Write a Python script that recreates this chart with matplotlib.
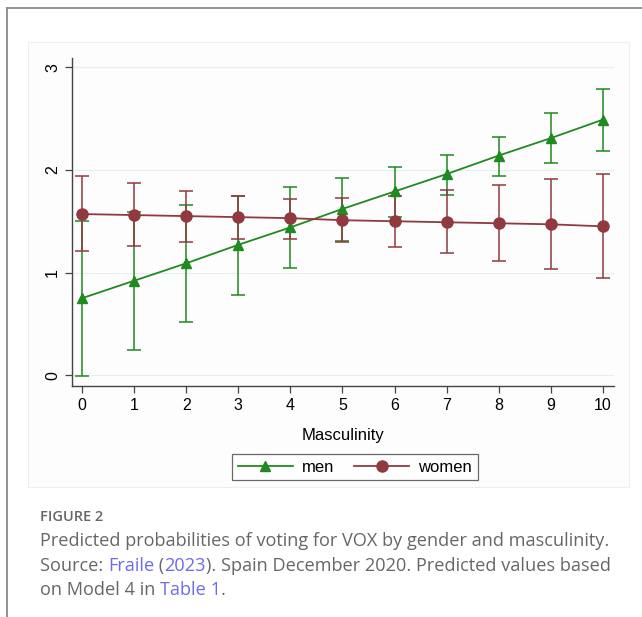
import matplotlib
matplotlib.use("Agg")
import matplotlib.pyplot as plt
from matplotlib.patches import Rectangle
from matplotlib.lines import Line2D
import numpy as np

# ---- data ----
masculinity = [0, 1, 2, 3, 4, 5, 6, 7, 8, 9, 10]
men_pred = [0.75, 0.92, 1.09, 1.27, 1.44, 1.62, 1.79, 1.96, 2.14, 2.31, 2.49]
men_low = [-0.01, 0.25, 0.52, 0.78, 1.04, 1.31, 1.54, 1.76, 1.94, 2.07, 2.18]
men_high = [1.50, 1.59, 1.66, 1.75, 1.83, 1.92, 2.03, 2.15, 2.32, 2.55, 2.79]
women_pred = [1.57, 1.56, 1.55, 1.54, 1.53, 1.51, 1.50, 1.49, 1.48, 1.47, 1.45]
women_low = [1.21, 1.26, 1.30, 1.33, 1.33, 1.30, 1.25, 1.19, 1.11, 1.03, 0.95]
women_high = [1.94, 1.87, 1.79, 1.75, 1.72, 1.73, 1.75, 1.80, 1.85, 1.91, 1.96]
y_ticks = [0, 1, 2, 3]
x_label = "Masculinity"
series_names = ["men", "women"]

W, H = 642, 617
fig = plt.figure(figsize=(W / 100, H / 100), dpi=100)
fig.patch.set_facecolor("white")


def fx(px):
    return px / W


def fy(py):
    return 1 - py / H

# page frame lines
fig.add_artist(Line2D([fx(7), fx(7)], [fy(8), fy(617)], color="#8a8a8a", lw=1.3,
                      transform=fig.transFigure))
fig.add_artist(Line2D([fx(7), fx(642)], [fy(8), fy(8)], color="#8a8a8a", lw=1.3,
                      transform=fig.transFigure))
# graph panel
fig.add_artist(Rectangle((fx(28), fy(487)), fx(629) - fx(28), fy(42) - fy(487),
                         transform=fig.transFigure, facecolor="#fdfdfd",
                         edgecolor="#eeeeee", lw=0.8, zorder=0))

ax = fig.add_axes([fx(72), fy(386), fx(614) - fx(72), fy(58) - fy(386)])
ax.set_facecolor("white")
ax.patch.set_alpha(0)

green = "#1f8a1f"
maroon = "#903a40"

x = np.array(masculinity)
for pred, low, high, col, mk, ms in [
    (men_pred, men_low, men_high, green, "^", 7.5),
    (women_pred, women_low, women_high, maroon, "o", 8),
]:
    pred = np.array(pred)
    yerr = np.vstack([pred - np.array(low), np.array(high) - pred])
    ax.errorbar(x, pred, yerr=yerr, fmt="none", ecolor=col, elinewidth=1.1,
                capsize=5, capthick=1.1, zorder=3)
    ax.plot(x, pred, color=col, lw=1.3, marker=mk, markersize=ms, zorder=4)

ax.set_xlim(-0.19, 10.21)
ax.set_ylim(-0.105, 3.09)
ax.set_xticks(masculinity)
ax.set_yticks(y_ticks)
ax.grid(axis="y", color="#e6eef0", lw=0.9)
ax.set_axisbelow(True)
for s in ["top", "right"]:
    ax.spines[s].set_visible(False)
for s in ["left", "bottom"]:
    ax.spines[s].set_color("#444444")
    ax.spines[s].set_linewidth(1.0)
ax.tick_params(axis="both", colors="#444444", length=5, width=0.9,
               labelsize=11.5, labelcolor="black")
for lab in ax.get_xticklabels() + ax.get_yticklabels():
    lab.set_fontfamily("Liberation Sans")
for lab in ax.get_yticklabels():
    lab.set_rotation(90)
    lab.set_va("center")
ax.set_xlabel(x_label, fontsize=12, fontfamily="Liberation Sans", labelpad=11)

handles = [
    Line2D([], [], color=green, lw=1.3, marker="^", markersize=7.5),
    Line2D([], [], color=maroon, lw=1.3, marker="o", markersize=8),
]
leg = fig.legend(handles, series_names, loc="center", bbox_to_anchor=(fx(355), fy(467)),
                 ncol=2, frameon=True, fancybox=False, edgecolor="#444444",
                 handlelength=3.3, handletextpad=0.55, columnspacing=1.2,
                 borderpad=0.35, borderaxespad=0,
                 prop={"family": "Liberation Sans", "size": 12})
leg.get_frame().set_linewidth(0.9)

# caption
fig.text(fx(40), fy(517), "FIGURE 2", fontsize=10.5, color="#666666",
         fontfamily="Open Sans", fontweight="semibold", va="center")

gray = "#666666"
link = "#6b6bef"
lines = [
    [("Predicted probabilities of voting for VOX by gender and masculinity.", gray)],
    [("Source: ", gray), ("Fraile", link), (" (", gray), ("2023", link),
     ("). Spain December 2020. Predicted values based", gray)],
    [("on Model 4 in ", gray), ("Table 1", link), (".", gray)],
]
ys = [541, 566, 590]
fig.canvas.draw()
renderer = fig.canvas.get_renderer()
for segs, yy in zip(lines, ys):
    xpx = 40
    for txt, col in segs:
        t = fig.text(fx(xpx), fy(yy), txt, fontsize=13.1, color=col,
                     fontfamily="Open Sans", va="center")
        bb = t.get_window_extent(renderer=renderer)
        xpx += bb.width

fig.savefig("out.png", dpi=100, facecolor="white")
